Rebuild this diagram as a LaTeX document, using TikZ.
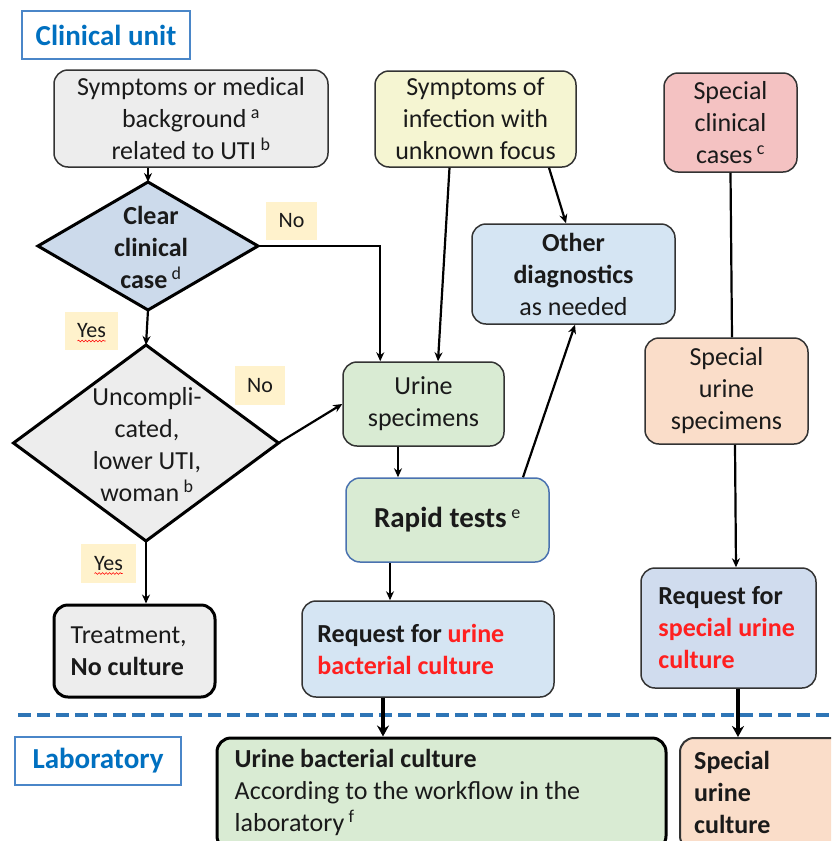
\documentclass[tikz,border=0pt]{standalone}
\usepackage{fontspec}
\setmainfont{Carlito}
\usetikzlibrary{shapes.geometric,arrows.meta,calc,decorations.pathmorphing}
\definecolor{txt}{HTML}{1A1A1A}
\definecolor{bline}{HTML}{333333}
\definecolor{gfill}{HTML}{EDEDED}
\definecolor{dfill}{HTML}{CCDAEB}
\definecolor{yfill}{HTML}{F5F5D2}
\definecolor{pfill}{HTML}{F4C2C2}
\definecolor{bfill}{HTML}{D5E5F3}
\definecolor{grfill}{HTML}{D9EBD3}
\definecolor{pcfill}{HTML}{FADDC9}
\definecolor{rqfill}{HTML}{D0DCEE}
\definecolor{lblfill}{HTML}{FFF2CC}
\definecolor{ttl}{HTML}{0070C0}
\definecolor{ttlbox}{HTML}{4A86C8}
\definecolor{dashc}{HTML}{2E75B6}
\definecolor{redt}{HTML}{FF2020}
\definecolor{rapb}{HTML}{4A72B0}
\newcommand{\supx}[1]{\,\textsuperscript{\fontsize{18}{18}\selectfont\mdseries #1}}
\begin{document}
\begin{tikzpicture}[x=1pt,y=-1pt,
  font=\fontsize{26}{32}\selectfont, text=txt,
  box/.style={draw=bline, line width=1.5pt, rounded corners=14pt, align=center, inner sep=0pt},
  ltext/.style={anchor=west, align=left, inner sep=0pt},
  dia/.style={diamond, draw=black, line width=3pt, inner sep=0pt, outer sep=0pt},
  lbl/.style={fill=lblfill, inner sep=0pt, font=\fontsize{22}{26}\selectfont},
  ttlstyle/.style={draw=ttlbox, line width=1.2pt, fill=white, text=ttl, inner sep=0pt, font=\fontsize{29}{34}\selectfont\bfseries},
  arr/.style={draw=black, line width=2.2pt, -{Stealth[length=9pt,width=8pt]}},
  thk/.style={draw=black, line width=4pt, -{Stealth[length=11pt,width=12pt]}},
  plain/.style={draw=black, line width=2.2pt},
  wavy/.style={draw=red, line width=0.6pt, decorate, decoration={snake, amplitude=0.9pt, segment length=3.5pt}}
]
\clip (0,0) rectangle (831,841);
\fill[white] (0,0) rectangle (831,841);

% titles
\node[ttlstyle, minimum width=168pt, minimum height=48pt] (clin) at (106,35) {Clinical unit};
\node[ttlstyle, minimum width=166pt, minimum height=48pt] (lab) at (98,761) {Laboratory};

% top boxes
\node[box, fill=gfill, minimum width=274pt, minimum height=97pt] (sym) at (191,118.5)
  {Symptoms or medical\\background\supx{a}\\related to UTI\supx{b}};
\node[box, fill=yfill, minimum width=201pt, minimum height=96pt] (inf) at (475.5,119)
  {Symptoms of\\infection with\\unknown focus};
\node[box, fill=pfill, minimum width=133pt, minimum height=99pt] (spc) at (730.5,122.5)
  {Special\\clinical\\cases\supx{c}};

% diamonds
\node[dia, fill=dfill, minimum width=220pt, minimum height=128pt] (d1) at (148,246) {};
\node[align=center, font=\fontsize{26}{32}\selectfont\bfseries] (d1t) at (151,247) {Clear\\clinical\\case\supx{d}};
\node[dia, fill=gfill, minimum width=265pt, minimum height=196pt] (d2) at (146,443) {};
\node[align=center] (d2t) at (147,445) {Uncompli-\\cated,\\lower UTI,\\woman\supx{b}};

% middle boxes
\node[box, fill=bfill, minimum width=203pt, minimum height=100pt] (oth) at (573.5,274)
  {\textbf{Other}\\\textbf{diagnostics}\\as needed};
\node[box, fill=grfill, minimum width=161pt, minimum height=84pt] (uri) at (423.5,404)
  {Urine\\specimens};
\node[box, draw=rapb, fill=grfill, minimum width=203pt, minimum height=84pt, font=\fontsize{29}{34}\selectfont\bfseries] (rap) at (447.5,520)
  {Rapid tests\supx{e}};
\node[box, fill=pcfill, minimum width=163pt, minimum height=106pt] (sus) at (726.5,391)
  {Special\\urine\\specimens};

% request boxes
\node[box, fill=bfill, minimum width=252pt, minimum height=96pt] (req) at (428,649) {};
\node[ltext, font=\fontsize{26}{32}\selectfont\bfseries] (reqt) at ([xshift=16pt]req.west)
  {Request for \textcolor{redt}{urine}\\\textcolor{redt}{bacterial culture}};
\node[box, fill=rqfill, minimum width=175pt, minimum height=120pt] (rqs) at (728.5,628) {};
\node[ltext, font=\fontsize{26}{32}\selectfont\bfseries] (rqst) at ([xshift=18pt]rqs.west)
  {Request for\\\textcolor{redt}{special urine}\\\textcolor{redt}{culture}};
\node[box, fill=gfill, line width=3pt, draw=black, minimum width=161pt, minimum height=92pt] (trt) at (134.5,651) {};
\node[ltext] (trtt) at ([xshift=18pt]trt.west) {Treatment,\\\textbf{No culture}};

% laboratory boxes
\node[box, fill=grfill, line width=3pt, draw=black, minimum width=449pt, minimum height=112pt] (ubc) at (441.5,794) {};
\node[ltext] (ubct) at ([xshift=19pt,yshift=2pt]ubc.west)
  {\textbf{Urine bacterial culture}\\According to the workflow in the\\laboratory\supx{f}};
\node[box, fill=pcfill, line width=2pt, draw=bline, minimum width=170pt, minimum height=112pt] (suc) at (765,794) {};
\node[ltext, font=\fontsize{26}{32}\selectfont\bfseries] (suct) at ([xshift=15pt,yshift=2pt]suc.west)
  {Special\\urine\\culture};

% labels
\node[lbl, minimum width=51pt, minimum height=38pt] (no1) at (291.5,221) {No};
\node[lbl, minimum width=53pt, minimum height=38pt] (yes1) at (91.5,331) {Yes};
\node[lbl, minimum width=50pt, minimum height=39pt] (no2) at (260,385.5) {No};
\node[lbl, minimum width=55pt, minimum height=39pt] (yes2) at (108.5,563.5) {Yes};
\draw[wavy] ($(yes1.center)+(-14,10)$) -- ($(yes1.center)+(14,10)$);
\draw[wavy] ($(yes2.center)+(-14,10)$) -- ($(yes2.center)+(14,10)$);

% separator
\draw[dashc, line width=4pt, dash pattern=on 13pt off 6pt] (18,715) -- (831,715);

% connectors
\draw[arr] (sym.south -| d1.north) -- (d1.north);
\draw[arr] (d1.east) -| ([xshift=38pt]uri.north west);
\draw[arr] ([xshift=-26pt]inf.south) -- ([xshift=14.5pt]uri.north);
\draw[arr] ([xshift=73.5pt]inf.south) -- ([xshift=-7.5pt]oth.north);
\draw[arr] (d1.south) -- (d2.north);
\draw[arr] (d2.east) -- (uri.west);
\draw[arr] (d2.south) -- (d2.south |- trt.north);
\draw[arr] ([xshift=-25.5pt]uri.south) -- ([xshift=-49.5pt]rap.north);
\draw[arr] ([xshift=75.5pt]rap.north) -- ([xshift=1.5pt]oth.south);
\draw[arr] ([xshift=-57.5pt]rap.south) -- ([xshift=-38pt]req.north);
\draw[plain] (spc.south) -- ([xshift=5.5pt]sus.north);
\draw[arr] ([xshift=8.5pt]sus.south) -- ([xshift=7.5pt]rqs.north);
\draw[thk] ([xshift=-45pt]req.south) -- ([xshift=-58.5pt]ubc.north);
\draw[thk] ([xshift=9.5pt]rqs.south) -- ([xshift=-27pt]suc.north);
\end{tikzpicture}
\end{document}
